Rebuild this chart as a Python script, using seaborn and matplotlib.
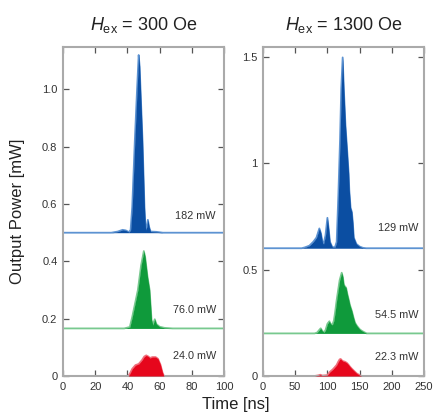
import matplotlib
matplotlib.use("Agg")
import matplotlib.pyplot as plt
import seaborn as sns
import pandas as pd

# ---- pulse traces, H_ex = 300 Oe (time in ns, power above each trace's baseline in mW)
low_blue_t = [0, 30, 34, 37, 39, 41, 42, 43, 44.6, 46, 47, 47.6, 48.5, 49.4, 50.6, 51.3, 52, 52.7, 53.5, 54.4, 58, 62, 100]
low_blue_p = [0, 0, 0.004, 0.01, 0.008, 0.002, 0.01, 0.09, 0.32, 0.5, 0.62, 0.58, 0.45, 0.32, 0.09, 0.01, 0.02, 0.045, 0.02, 0.004, 0.003, 0, 0]
low_green_t = [0, 38, 41.5, 43, 46.5, 48.5, 50.2, 51, 52.5, 53.8, 55, 55.8, 57, 58, 60, 63, 68, 100]
low_green_p = [0, 0, 0.005, 0.04, 0.134, 0.22, 0.27, 0.25, 0.18, 0.134, 0.03, 0.012, 0.032, 0.015, 0.006, 0.002, 0, 0]
low_red_t = [0, 40.5, 41.5, 43, 45, 47, 49, 50.5, 51.7, 53, 54, 55.5, 57.5, 59, 60.5, 61.8, 62.7, 100]
low_red_p = [0, 0, 0.008, 0.025, 0.038, 0.042, 0.055, 0.068, 0.072, 0.068, 0.063, 0.066, 0.066, 0.06, 0.04, 0.012, 0, 0]

# ---- pulse traces, H_ex = 1300 Oe
high_blue_t = [0, 60, 65, 72, 78, 83, 87.5, 90, 92.5, 94, 97, 100, 102, 104, 107.7, 111.8, 114.4, 117, 119.6, 121.5,
               123.7, 125.5, 128, 131, 133, 134, 136, 138, 139.5, 141, 145, 150, 155, 160, 250]
high_blue_p = [0, 0, 0.004, 0.012, 0.03, 0.05, 0.093, 0.07, 0.025, 0.02, 0.06, 0.143, 0.09, 0.03, 0.005, 0.005, 0.03, 0.25, 0.508, 0.75,
               0.896, 0.75, 0.58, 0.445, 0.35, 0.273, 0.19, 0.17, 0.12, 0.05, 0.02, 0.008, 0.002, 0, 0]
high_green_t = [0, 80, 84, 87, 89.6, 92, 94.7, 97, 100, 103, 105, 107.7, 110, 112, 114.4, 117, 119, 122.2, 124, 125.5,
                127.3, 129, 131, 133, 135, 138, 140.5, 142.9, 146, 150, 153, 157, 161, 250]
high_green_p = [0, 0, 0.004, 0.015, 0.024, 0.012, 0.005, 0.015, 0.045, 0.057, 0.045, 0.04, 0.06, 0.1, 0.157, 0.21, 0.25, 0.285, 0.265, 0.23,
                0.22, 0.215, 0.185, 0.16, 0.133, 0.105, 0.075, 0.05, 0.035, 0.02, 0.013, 0.006, 0, 0]
high_red_t = [0, 80, 86, 89, 92, 100, 104, 108, 111, 114.4, 117, 119, 120.6, 122, 124, 127.3, 130, 132.5, 135, 138, 141, 145.5, 150, 153, 250]
high_red_p = [0, 0, 0.003, 0.006, 0.002, 0.004, 0.02, 0.03, 0.04, 0.052, 0.068, 0.078, 0.08, 0.075, 0.07, 0.067, 0.062, 0.054, 0.044, 0.034, 0.025, 0.012, 0.004, 0, 0]

# input powers and vertical offsets of the stacked traces
low_labels = ["182 mW", "76.0 mW", "24.0 mW"]
high_labels = ["129 mW", "54.5 mW", "22.3 mW"]
low_offsets = [0.5, 0.166, 0.0]
high_offsets = [0.6, 0.2, 0.0]
low_label_y = [0.56, 0.23, 0.071]
high_label_y = [0.696, 0.286, 0.091]

titles = ["300", "1300"]
low_yticks = [0, 0.2, 0.4, 0.6, 0.8, 1.0]
low_yticklabels = ["0", "0.2", "0.4", "0.6", "0.8", "1.0"]
high_yticks = [0, 0.5, 1, 1.5]
high_yticklabels = ["0", "0.5", "1", "1.5"]
low_xticks = [0, 20, 40, 60, 80, 100]
high_xticks = [0, 50, 100, 150, 200, 250]

fill_colors = ["#0b4ea2", "#0f9a3b", "#e6061c"]
line_colors = ["#5d93d2", "#78c98f", "#f06f7c"]

sns.set_theme(style="ticks")
plt.rcParams["font.family"] = ["Liberation Sans", "DejaVu Sans"]
plt.rcParams["mathtext.fontset"] = "custom"
plt.rcParams["mathtext.rm"] = "Liberation Sans"
plt.rcParams["mathtext.it"] = "Liberation Sans:italic"

fig = plt.figure(figsize=(4.33, 4.16), dpi=100)
ax_l = fig.add_axes([63 / 433, 40 / 416, 161 / 433, 329 / 416])
ax_r = fig.add_axes([263 / 433, 40 / 416, 161 / 433, 329 / 416])

panels = [
    (ax_l, [(low_blue_t, low_blue_p), (low_green_t, low_green_p), (low_red_t, low_red_p)],
     low_offsets, low_labels, low_label_y, (0, 100), (0, 1.148), low_xticks, low_yticks, low_yticklabels, 95, titles[0]),
    (ax_r, [(high_blue_t, high_blue_p), (high_green_t, high_green_p), (high_red_t, high_red_p)],
     high_offsets, high_labels, high_label_y, (0, 250), (0, 1.545), high_xticks, high_yticks, high_yticklabels, 242, titles[1]),
]

for ax, traces, offsets, labels, label_y, xlim, ylim, xticks, yticks, ytl, lab_x, field in panels:
    frames = []
    for (t, p), off, lab in zip(traces, offsets, labels):
        frames.append(pd.DataFrame({"time": t, "power": [v + off for v in p], "base": off, "trace": lab}))
    df = pd.concat(frames, ignore_index=True)
    sns.lineplot(data=df, x="time", y="power", hue="trace", palette=line_colors,
                 hue_order=labels, linewidth=1.3, legend=False, ax=ax, sort=False)
    for lab, fc in zip(labels, fill_colors):
        sub = df[df["trace"] == lab]
        ax.fill_between(sub["time"], sub["base"], sub["power"], color=fc, linewidth=0, zorder=3)
    for lab, y in zip(labels, label_y):
        ax.text(lab_x, y, lab, ha="right", va="center", fontsize=7.8, color="#333333")

    ax.set_xlim(*xlim)
    ax.set_ylim(*ylim)
    ax.set_xticks(xticks)
    ax.set_yticks(yticks)
    ax.set_yticklabels(ytl)
    ax.set_xlabel("")
    ax.set_ylabel("")
    ax.tick_params(direction="in", length=4, width=0.9, color="#555555", labelsize=8,
                   labelcolor="#333333", top=True, right=True, pad=4)
    for s in ax.spines.values():
        s.set_color("#aaaaaa")
        s.set_linewidth(1.5)
    ax.set_title(r"$H_{\rm ex}$ = " + field + " Oe", fontsize=13, color="#222222", pad=12)

fig.text(236 / 433, 1 - 405 / 416, "Time [ns]", ha="center", va="center", fontsize=12, color="#222222")
fig.text(18 / 433, 1 - 211 / 416, "Output Power [mW]", ha="center", va="center", rotation=90,
         fontsize=12, color="#222222")

fig.savefig("out.png", dpi=100)
